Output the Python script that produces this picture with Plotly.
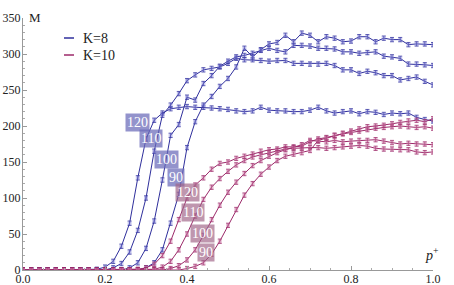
import plotly.graph_objects as go

# sampling grid of p+
P = [round(0.02 * i, 2) for i in range(51)]

# K = 8 series (M vs p+)
K8_N120 = [0]*9 + [1, 4, 12, 33, 65, 128, 182, 208, 218, 224,
                   226, 227, 226, 226, 225, 224, 223, 221, 220, 221,
                   226, 222, 221, 221, 220, 220, 222, 226, 221, 218,
                   220, 221, 217, 220, 219, 216, 218, 217, 218, 212,
                   209, 207]
K8_N110 = [0]*11 + [3, 9, 25, 55, 100, 165, 215, 229, 245, 263,
                    271, 278, 280, 282, 287, 294, 292, 292, 291, 290,
                    291, 291, 287, 287, 286, 286, 287, 284, 278, 278,
                    273, 276, 274, 270, 270, 264, 266, 268, 262, 257]
K8_N100 = [0]*13 + [3, 10, 30, 68, 125, 187, 202, 240, 236, 259,
                    270, 283, 290, 296, 298, 301, 305, 308, 305, 303,
                    312, 312, 311, 308, 308, 307, 303, 303, 301, 302,
                    303, 297, 296, 294, 286, 286, 285, 284]
K8_N90 = [0]*15 + [3, 10, 28, 65, 105, 170, 206, 229, 241, 255,
                   266, 282, 308, 296, 306, 314, 316, 326, 317, 329,
                   326, 317, 324, 322, 317, 318, 324, 324, 317, 322,
                   320, 320, 313, 314, 314, 313]

# K = 10 series
K10_N120 = [0]*14 + [1, 3, 8, 20, 40, 70, 100, 118, 128, 140,
                     148, 150, 155, 158, 161, 165, 167, 168, 171, 171,
                     172, 178, 182, 184, 187, 189, 191, 193, 195, 197,
                     198, 199, 200, 199, 198, 199, 197]
K10_N110 = [0]*16 + [1, 4, 12, 28, 50, 75, 98, 115, 127, 137,
                     146, 152, 157, 160, 163, 166, 168, 169, 170, 170,
                     170, 169, 170, 171, 172, 173, 172, 169, 168, 168,
                     167, 167, 164, 163, 164]
K10_N100 = [0]*18 + [2, 6, 14, 28, 48, 70, 90, 108, 122, 134,
                     145, 152, 158, 163, 167, 170, 174, 180, 179, 178,
                     180, 178, 179, 180, 180, 181, 179, 177, 175, 176,
                     175, 175, 174]
K10_N90 = [0]*20 + [2, 5, 10, 22, 40, 62, 84, 104, 120, 133,
                    143, 152, 158, 161, 163, 166, 180, 183, 187, 190,
                    193, 196, 199, 200, 201, 203, 205, 207, 208, 206,
                    210]

ERR = 3  # error bar half-height

N_LABELS = ["120", "110", "100", "90"]
X_TICKS = [0.0, 0.2, 0.4, 0.6, 0.8, 1.0]
Y_TICKS = [0, 50, 100, 150, 200, 250, 300, 350]

BLUE = "#2f2f9c"
BLUE_L = "rgba(130,130,215,0.45)"
MAG = "#9c2a6a"
MAG_L = "rgba(205,120,165,0.45)"

fig = go.Figure()

def add(y, col, light):
    fig.add_trace(go.Scatter(
        x=P, y=y, mode="lines+markers",
        line=dict(color=col, width=1),
        marker=dict(symbol="square", size=4, color=light, line=dict(width=0)),
        error_y=dict(type="constant", value=ERR, color=col, thickness=0.8, width=2),
        showlegend=False, hoverinfo="skip"))

for s in [K8_N120, K8_N110, K8_N100, K8_N90]:
    add(s, BLUE, BLUE_L)
for s in [K10_N120, K10_N110, K10_N100, K10_N90]:
    add(s, MAG, MAG_L)

SERIF = "Times New Roman, Liberation Serif, DejaVu Serif, serif"

# curve labels (positions of the label boxes)
blue_pos = [(0.279, 205), (0.313, 182), (0.349, 153), (0.373, 128)]
mag_pos = [(0.401, 107), (0.415, 80), (0.438, 51), (0.446, 24)]
for lab, (x, y) in zip(N_LABELS, blue_pos):
    fig.add_annotation(x=x, y=y, text=lab, showarrow=False,
                       font=dict(family=SERIF, size=14, color="white"),
                       bgcolor="rgba(105,105,185,0.72)", borderpad=1)
for lab, (x, y) in zip(N_LABELS, mag_pos):
    fig.add_annotation(x=x, y=y, text=lab, showarrow=False,
                       font=dict(family=SERIF, size=14, color="white"),
                       bgcolor="rgba(160,100,135,0.68)", borderpad=1)

W, H = 454, 285
L, R, T, B = 23, 21, 18, 15
pw, ph = W - L - R, H - T - B

def px2paper(px, py):
    return (px - L) / pw, (H - B - py) / ph

# legend
for name, col, py in [("K=8", BLUE, 38), ("K=10", MAG, 55)]:
    x0, y0 = px2paper(64, py)
    x1, _ = px2paper(74, py)
    fig.add_shape(type="line", xref="paper", yref="paper", x0=x0, x1=x1, y0=y0, y1=y0,
                  line=dict(color=col, width=1.5))
    xt, yt = px2paper(81, py)
    fig.add_annotation(xref="paper", yref="paper", x=xt, y=yt, text=name, showarrow=False,
                       xanchor="left", yanchor="middle",
                       font=dict(family=SERIF, size=14, color="#222"))

# axis titles
xm, ym = px2paper(27, 8)
fig.add_annotation(xref="paper", yref="paper", x=xm, y=ym, text="M", showarrow=False,
                   font=dict(family=SERIF, size=13, color="#222"))
xp, yp = px2paper(441, 265)
fig.add_annotation(xref="paper", yref="paper", x=xp, y=yp, text="<i>p</i><sup>+</sup>",
                   showarrow=False, font=dict(family=SERIF, size=14, color="#222"))

axis_common = dict(showgrid=False, zeroline=False, showline=True, linecolor="#999",
                   linewidth=1, ticks="inside", ticklen=4, tickcolor="#999",
                   automargin=False,
                   tickfont=dict(family=SERIF, size=12, color="#222"))
fig.update_xaxes(range=[0, 1.0], tickvals=X_TICKS, ticktext=[f"{v:.1f}" for v in X_TICKS],
                 minor=dict(ticks="inside", dtick=0.05, ticklen=2, tickcolor="#aaa"),
                 ticklabelstandoff=-2, **axis_common)
fig.update_yaxes(range=[0, 350], tickvals=Y_TICKS,
                 minor=dict(ticks="inside", dtick=10, ticklen=2, tickcolor="#aaa"),
                 ticklabelstandoff=-1, **axis_common)

fig.update_layout(width=W, height=H, margin=dict(l=L, r=R, t=T, b=B, autoexpand=False),
                  plot_bgcolor="white", paper_bgcolor="white", showlegend=False)

fig.write_html("out.html", post_script="document.body.style.margin='0px';",
               config={"displayModeBar": False})
